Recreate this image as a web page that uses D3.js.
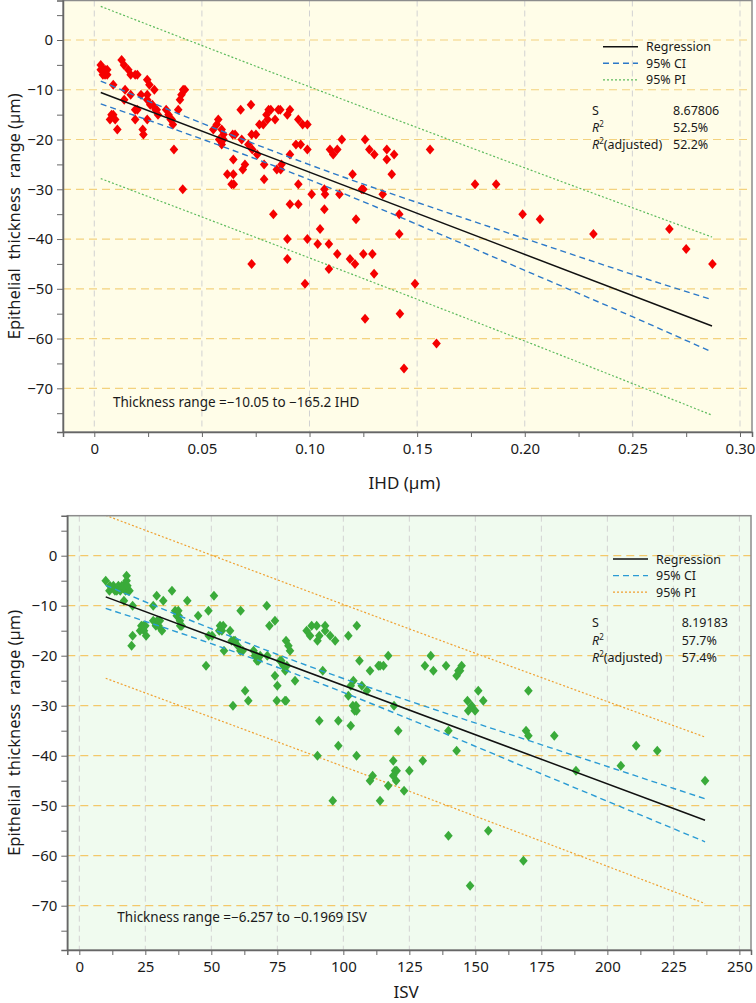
<!DOCTYPE html>
<html><head><meta charset="utf-8">
<script src="https://cdn.jsdelivr.net/npm/d3@7"></script>
<style>
body{margin:0;background:#fff}
svg{display:block}
text{font-family:"Noto Sans",sans-serif;fill:#1a1a1a}
</style>
</head><body>
<svg id="c" width="756" height="1003"></svg>
<script>
// ---------- DATA: panel 1 (IHD) ----------
const ihdX = [0.003,0.004,0.005,0.004,0.006,0.005,0.006,0.003,0.0088,0.0127,0.0138,0.0158,0.0169,0.019,0.020,0.0143,0.0169,0.0139,0.0217,0.019,0.020,0.019,0.0246,0.0256,0.0279,0.0246,0.0246,0.026,0.027,0.0285,0.029,0.0296,0.0246,0.0225,0.0228,0.008,0.0088,0.0097,0.0073,0.0107,0.0334,0.0345,0.0355,0.036,0.0365,0.037,0.039,0.0398,0.0405,0.0413,0.0421,0.0411,0.0576,0.0569,0.0553,0.0592,0.060,0.060,0.0592,0.058,0.0643,0.0654,0.0685,0.068,0.0728,0.0618,0.0646,0.0638,0.0648,0.0646,0.069,0.070,0.0716,0.0734,0.0731,0.0751,0.0767,0.0785,0.0757,0.0789,0.0789,0.080,0.081,0.082,0.0805,0.0855,0.0848,0.0832,0.0866,0.087,0.0731,0.0864,0.0897,0.0909,0.084,0.0948,0.0968,0.099,0.0937,0.0959,0.099,0.0909,0.0948,0.0909,0.0948,0.101,0.1069,0.1072,0.1069,0.1049,0.0897,0.099,0.0897,0.1038,0.109,0.1129,0.109,0.0979,0.1188,0.1211,0.125,0.1292,0.130,0.1258,0.1095,0.111,0.1129,0.115,0.1258,0.1278,0.1301,0.1359,0.1393,0.1359,0.1382,0.120,0.1243,0.125,0.134,0.1139,0.1216,0.1417,0.1417,0.156,0.1769,0.1867,0.149,0.142,0.159,0.1439,0.199,0.2071,0.2319,0.2672,0.275,0.2872];
const ihdThick = [-5,-6,-7,-7,-6,-6,-7,-6,-9,-4,-5,-6,-7,-7,-7,-10,-11,-12,-11,-14,-14,-16,-8,-9,-10,-11,-12,-13,-13,-14,-14,-15,-16,-18,-19,-15,-15,-16,-16,-18,-14,-15,-16,-16,-17,-22,-14,-12,-11,-10,-10,-30,-16,-17,-18,-18,-19,-20,-21,-20,-19,-19,-20,-14,-13,-27,-27,-29,-29,-24,-26,-25,-21,-22,-19,-19,-17,-17,-23,-25,-28,-15,-14,-14,-16,-14,-26,-35,-26,-25,-45,-14,-15,-14,-16,-16,-17,-17,-21,-21,-22,-23,-29,-33,-33,-31,-30,-31,-34,-38,-40,-40,-44,-41,-41,-43,-46,-49,-44,-45,-43,-43,-47,-56,-22,-23,-22,-20,-20,-22,-23,-22,-23,-24,-27,-27,-30,-30,-31,-31,-36,-35,-39,-22,-29,-29,-49,-55,-61,-66,-35,-36,-39,-38,-42,-45];
const ihdCoef = [-10.05, -165.2];
const ihdFitRange = [0.003, 0.287];
const ihdCIX = [0.003,0.04,0.08,0.12,0.16,0.2,0.25,0.287];
const ihdCIUpper = [-8.25,-14.96,-21.8,-28.2,-34.1,-39.9,-47.1,-52.2];
const ihdCILower = [-12.85,-18.36,-24.7,-31.6,-38.9,-46.3,-55.6,-62.7];
const ihdPIX = [0.003,0.1,0.2,0.287];
const ihdPIUpper = [6.75,-9.4,-25.7,-39.6];
const ihdPILower = [-27.85,-43.8,-60.5,-75.4];
const ihdXTicks = [0,0.05,0.10,0.15,0.20,0.25,0.30];
const ihdStats = [["S","8.67806"],["R2","52.5%"],["R2adj","52.2%"]];

// ---------- DATA: panel 2 (ISV) ----------
const isvX = [10,11.4,11.6,12.9,13.5,14.2,14.8,15.5,16.1,16.7,17.9,17.9,16.9,18.6,17.5,19,18.2,20.2,20.2,19.8,23,23.5,24.2,25,24.5,25.3,28,29.3,28,29.5,30,29,31.3,30.5,31.8,35.1,36.3,36.9,37.6,38.1,38.2,38.8,37.5,40.9,45,48,48.9,51,49,50.3,53.3,54.5,54,53,57.1,54.8,57.7,58.5,60,61,61.9,59,61.1,62.8,64,58.2,66,67,67.8,68.5,67.3,66.5,71,72,74.1,71.2,74.1,75,74.8,76,77.9,76.5,77.3,78,78.6,78.3,79.2,79.8,81.7,78.3,86.1,87.4,88,89.9,90.2,90.9,93.1,93.1,95,96.9,92.2,90.9,98.1,98.1,90.2,105,96,101.9,105.1,106.1,101.9,102.8,103.8,103.6,104.3,105,104.8,102.8,107,108.9,110.1,113.3,113.9,115.2,117,110.1,111.1,113.9,119.2,120.8,118.9,119.6,120.2,118.9,120,117,123,125,130.1,139.8,154.9,130.9,133.1,134.1,138.9,142.9,143.6,144.2,144.8,151.1,153,147,148.6,149.9,147.3,139.8,142.9,170.1,169.2,170.1,179.9,210.9,218.9,205.1,188.1,237,168.2,148];
const isvThick = [-5,-7,-6,-6,-7,-7,-6,-7,-6,-6,-5,-4,-9,-7,-7,-7,-6,-10,-16,-18,-15,-14,-14,-14,-15,-16,-10,-8,-13,-13,-14,-14,-15,-13,-9,-7,-11,-12,-12,-13,-14,-14,-11,-9,-12,-22,-11,-8,-16,-16,-14,-14,-15,-15,-15,-19,-17,-17,-18,-19,-19,-17,-11,-27,-29,-30,-19,-20,-21,-20,-21,-20,-10,-14,-13,-20,-24,-26,-29,-21,-29,-21,-22,-23,-22,-17,-18,-19,-25,-29,-15,-16,-14,-14,-17,-16,-14,-15,-16,-17,-23,-33,-33,-38,-40,-40,-49,-16,-14,-21,-28,-26,-25,-30,-31,-31,-30,-34,-26,-27,-23,-22,-22,-22,-20,-45,-44,-49,-30,-35,-41,-43,-43,-44,-45,-46,-47,-43,-41,-56,-55,-22,-20,-23,-22,-24,-23,-23,-22,-27,-29,-29,-30,-31,-31,-35,-39,-27,-35,-36,-36,-38,-39,-42,-43,-45,-61,-66];
const isvCoef = [-6.257, -0.1969];
const isvFitRange = [10, 237];
const isvCIX = [10,50,90,130,170,210,237];
const isvCIUpper = [-5.93,-14.6,-22.68,-29.95,-36.93,-43.9,-48.62];
const isvCILower = [-10.53,-17.6,-25.28,-33.75,-42.53,-51.3,-57.22];
const isvPIX = [10,90,170,237];
const isvPIUpper = [8.07,-7.78,-23.4,-36.27];
const isvPILower = [-24.52,-40.18,-56.1,-69.57];
const isvXTicks = [0,25,50,75,100,125,150,175,200,225,250];
const isvStats = [["S","8.19183"],["R2","57.7%"],["R2adj","57.4%"]];

const yTicks = [0,-10,-20,-30,-40,-50,-60,-70];
const yMinor = [5,-5,-15,-25,-35,-45,-55,-65,-75];

const svg = d3.select("#c");

function panel(cfg){
  const g = svg.append("g");
  const x = d3.scaleLinear().domain(cfg.xDomain).range([cfg.left, cfg.right]);
  const y = d3.scaleLinear().domain(cfg.yDomain).range([cfg.bottom, cfg.top]);
  const clipId = "clip" + cfg.id;
  svg.append("clipPath").attr("id", clipId).append("rect")
    .attr("x", cfg.left).attr("y", cfg.top).attr("width", cfg.right-cfg.left).attr("height", cfg.bottom-cfg.top);

  g.append("rect").attr("x", cfg.left).attr("y", cfg.top)
    .attr("width", cfg.right-cfg.left).attr("height", cfg.bottom-cfg.top)
    .attr("fill", cfg.bg);

  // gridlines
  const grid = g.append("g").attr("clip-path", `url(#${clipId})`);
  grid.selectAll(".vg").data(cfg.xTicks).join("line")
    .attr("x1", d=>x(d)).attr("x2", d=>x(d)).attr("y1", cfg.top).attr("y2", cfg.bottom)
    .attr("stroke", "#d2d2d2").attr("stroke-width", 1).attr("stroke-dasharray", "6,4");
  grid.selectAll(".hg").data(yTicks).join("line")
    .attr("x1", cfg.left).attr("x2", cfg.right).attr("y1", d=>y(d)).attr("y2", d=>y(d))
    .attr("stroke", cfg.hgrid).attr("stroke-width", 1.2).attr("stroke-dasharray", "8,5");

  // bands and regression
  const plot = g.append("g").attr("clip-path", `url(#${clipId})`);
  const line = d3.line().x(d=>x(d[0])).y(d=>y(d[1])).curve(d3.curveMonotoneX);
  const piU = cfg.piX.map((v,i)=>[v, cfg.piU[i]]);
  const piL = cfg.piX.map((v,i)=>[v, cfg.piL[i]]);
  const ciU = cfg.ciX.map((v,i)=>[v, cfg.ciU[i]]);
  const ciL = cfg.ciX.map((v,i)=>[v, cfg.ciL[i]]);
  [piU, piL].forEach(p=>plot.append("path").attr("d", line(p)).attr("fill","none")
    .attr("stroke", cfg.piColor).attr("stroke-width", 1.2).attr("stroke-dasharray", "2,2"));

  // points
  const diamond = "M0,-5L4.3,0L0,5L-4.3,0Z";
  plot.selectAll(".pt").data(cfg.xs.map((v,i)=>[v, cfg.ys[i]])).join("path")
    .attr("d", diamond).attr("transform", d=>`translate(${x(d[0])},${y(d[1])})`)
    .attr("fill", cfg.ptColor);

  [ciU, ciL].forEach(p=>plot.append("path").attr("d", line(p)).attr("fill","none")
    .attr("stroke", cfg.ciColor).attr("stroke-width", 1.4).attr("stroke-dasharray", "6,4"));
  const fit = cfg.fitRange.map(v=>[v, cfg.coef[0] + cfg.coef[1]*v]);
  plot.append("path").attr("d", d3.line().x(d=>x(d[0])).y(d=>y(d[1]))(fit))
    .attr("fill","none").attr("stroke","#111").attr("stroke-width",1.5);

  // frame
  g.append("rect").attr("x", cfg.left).attr("y", cfg.top)
    .attr("width", cfg.right-cfg.left).attr("height", cfg.bottom-cfg.top)
    .attr("fill","none").attr("stroke","#8c8c8c").attr("stroke-width",1.5);

  // axes
  const ya = g.append("g").attr("transform", `translate(${cfg.left},0)`)
    .call(d3.axisLeft(y).tickValues(yTicks).tickSize(6).tickPadding(4));
  ya.select(".domain").attr("stroke","#666").attr("stroke-width",1.5);
  ya.selectAll(".tick line").attr("stroke","#666");
  ya.selectAll("text").attr("font-size", 15).attr("font-family","Noto Sans");
  const ym = g.append("g").attr("transform", `translate(${cfg.left},0)`)
    .call(d3.axisLeft(y).tickValues(yMinor).tickSize(6).tickFormat(""));
  ym.select(".domain").remove();
  ym.selectAll(".tick line").attr("stroke","#666");

  const xa = g.append("g").attr("transform", `translate(0,${cfg.bottom})`)
    .call(d3.axisBottom(x).tickValues(cfg.xTicks).tickSize(5).tickPadding(6).tickFormat(cfg.xFmt));
  xa.select(".domain").attr("stroke","#666").attr("stroke-width",1.5);
  xa.selectAll(".tick line").attr("stroke","#666");
  xa.selectAll("text").attr("font-size", 15).attr("font-family","Noto Sans");
  const xm = g.append("g").attr("transform", `translate(0,${cfg.bottom})`)
    .call(d3.axisBottom(x).tickValues(cfg.xMinor).tickSize(5).tickFormat(""));
  xm.select(".domain").remove();
  xm.selectAll(".tick line").attr("stroke","#666");

  // titles
  g.append("text").attr("x", (cfg.left+cfg.right)/2 - 3).attr("y", cfg.xTitleY)
    .attr("text-anchor","middle").attr("font-size",17).text(cfg.xTitle);
  g.append("text").attr("transform", `translate(20,${(cfg.top+cfg.bottom)/2}) rotate(-90)`)
    .attr("text-anchor","middle").attr("font-size",16.5).attr("xml:space","preserve")
    .style("white-space","pre").text("Epithelial  thickness  range (µm)");

  // equation
  g.append("text").attr("x", cfg.left + 50).attr("y", y(cfg.eqY))
    .attr("font-size",13.5).attr("xml:space","preserve").style("white-space","pre").text(cfg.eq);

  // legend
  const lg = g.append("g");
  const items = [["Regression","#111",null,1.5],["95% CI",cfg.ciColor,"6,4",1.4],["95% PI",cfg.piColor,"2,2",1.2]];
  items.forEach((it,i)=>{
    const yy = cfg.legY + i*16.6;
    lg.append("line").attr("x1", cfg.legX).attr("x2", cfg.legX+35).attr("y1", yy).attr("y2", yy)
      .attr("stroke", it[1]).attr("stroke-width", it[3]).attr("stroke-dasharray", it[2]);
    lg.append("text").attr("x", cfg.legX+43).attr("y", yy+4.5).attr("font-size",12.5).text(it[0]);
  });
  cfg.stats.forEach((s,i)=>{
    const yy = cfg.statY + i*17.3 + 4.5;
    const t = lg.append("text").attr("x", 592).attr("y", yy).attr("font-size",12.5);
    if (s[0] === "S") t.text("S");
    else {
      t.append("tspan").attr("font-style","italic").text("R");
      t.append("tspan").attr("font-size",8).attr("dy",-5).text("2");
      if (s[0] === "R2adj") t.append("tspan").attr("dy",5).text("(adjusted)");
    }
    lg.append("text").attr("x", cfg.statValX).attr("y", yy).attr("font-size",12.5).text(s[1]);
  });
}

panel({
  id: 1, left: 63, right: 752, top: 0.5, bottom: 432,
  xDomain: [-0.01454, 0.30558], yDomain: [-78.78, 7.94],
  bg: "#fffde8", hgrid: "#f3d27e",
  xs: ihdX, ys: ihdThick, ptColor: "#f50000",
  coef: ihdCoef, fitRange: ihdFitRange,
  ciX: ihdCIX, ciU: ihdCIUpper, ciL: ihdCILower, ciColor: "#2c79c8",
  piX: ihdPIX, piU: ihdPIUpper, piL: ihdPILower, piColor: "#5dbb5d",
  xTicks: ihdXTicks, xMinor: [0.025,0.075,0.125,0.175,0.225,0.275],
  xFmt: d => d === 0 ? "0" : d.toFixed(2),
  xTitle: "IHD (µm)", xTitleY: 489,
  eq: "Thickness range =\u221210.05 to \u2212165.2 IHD", eqY: -73.8,
  legX: 603, legY: 46.7, statY: 110, statValX: 673, stats: ihdStats
});

panel({
  id: 2, left: 67.3, right: 751, top: 515.7, bottom: 950,
  xDomain: [-4.55, 254.4], yDomain: [-78.86, 8.0],
  bg: "#f0fbef", hgrid: "#f3c86a",
  xs: isvX, ys: isvThick, ptColor: "#3aab3a",
  coef: isvCoef, fitRange: isvFitRange,
  ciX: isvCIX, ciU: isvCIUpper, ciL: isvCILower, ciColor: "#2a9bd4",
  piX: isvPIX, piU: isvPIUpper, piL: isvPILower, piColor: "#f0a030",
  xTicks: isvXTicks, xMinor: [12.5,37.5,62.5,87.5,112.5,137.5,162.5,187.5,212.5,237.5],
  xFmt: d => String(d),
  xTitle: "ISV", xTitleY: 998,
  eq: "Thickness range =\u22126.257 to \u22120.1969 ISV", eqY: -73.2,
  legX: 613, legY: 559, statY: 622.7, statValX: 681.7, stats: isvStats
});
</script>
</body></html>
